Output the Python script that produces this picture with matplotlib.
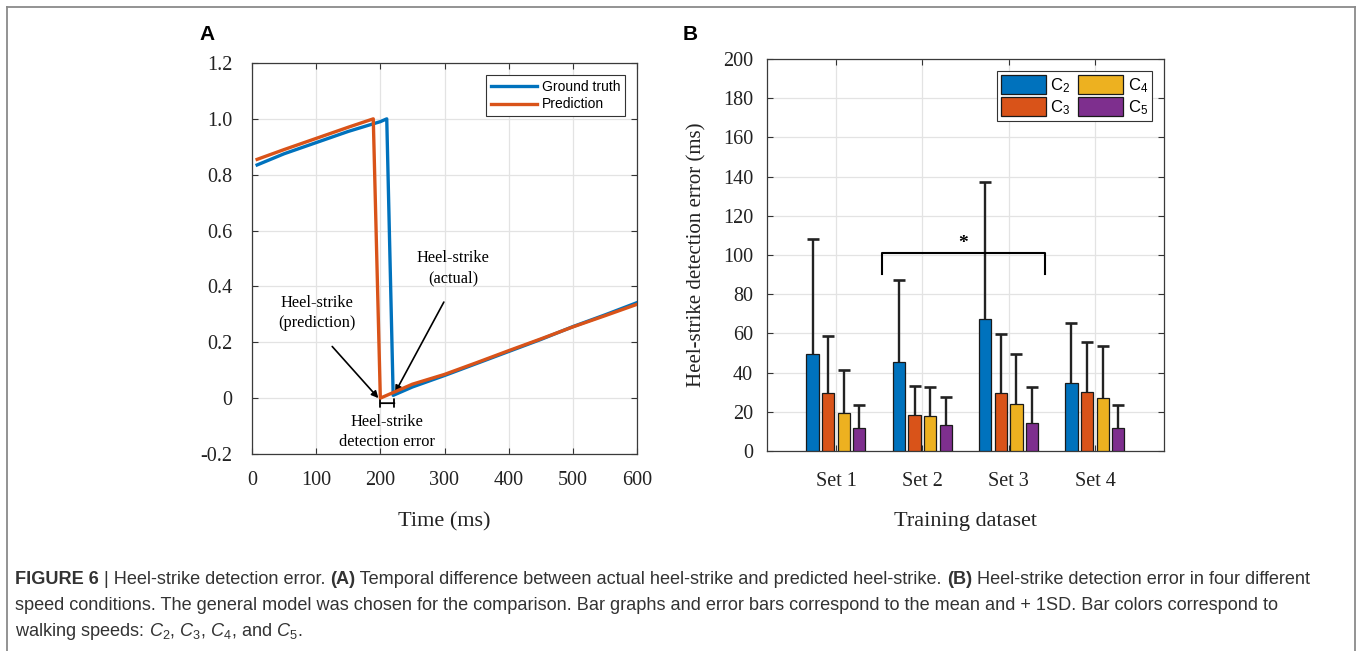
import numpy as np
import matplotlib
matplotlib.use("Agg")
import matplotlib.pyplot as plt
from matplotlib.patches import Patch
from matplotlib.lines import Line2D

# fonts
plt.rcParams['font.family'] = ['Liberation Serif', 'DejaVu Serif']
plt.rcParams['mathtext.fontset'] = 'custom'
plt.rcParams['mathtext.rm'] = 'Liberation Sans'
plt.rcParams['mathtext.it'] = 'Liberation Sans:italic'

# Panel A data
gt_t = [8, 50, 100, 150, 200, 210, 220, 250, 300, 350, 400, 450, 500, 550, 600]
gt_v = [0.835, 0.875, 0.915, 0.955, 0.99, 1.0, 0.01, 0.04, 0.081, 0.124, 0.167, 0.21, 0.256, 0.298, 0.342]
pred_t = [8, 50, 100, 150, 189, 200, 250, 300, 350, 400, 450, 500, 550, 600]
pred_v = [0.855, 0.89, 0.93, 0.97, 1.0, 0.0, 0.05, 0.085, 0.127, 0.17, 0.212, 0.255, 0.295, 0.336]

# Panel B data: mean and +1SD per walking speed, for Set 1..4
sets = ['Set 1', 'Set 2', 'Set 3', 'Set 4']
speeds = ['C_2', 'C_3', 'C_4', 'C_5']
c2_mean = [49.3, 45.4, 67.4, 34.8]
c2_sd = [58.7, 42.0, 69.6, 30.7]
c3_mean = [29.6, 18.6, 29.6, 30.2]
c3_sd = [29.3, 14.5, 30.0, 25.3]
c4_mean = [19.6, 17.9, 24.0, 27.1]
c4_sd = [21.7, 14.5, 25.5, 26.3]
c5_mean = [11.9, 13.4, 14.5, 11.5]
c5_sd = [11.8, 13.9, 17.9, 12.0]

blue = '#0072BD'
orange = '#D95319'
yellow = '#EDB120'
purple = '#7E2F8E'
grid_c = '#e3e3e3'
ink = '#222222'

W, H = 1357, 651
fig = plt.figure(figsize=(W / 100, H / 100), dpi=100)


def px_axes(l, t, r, b):
    return fig.add_axes([l / W, 1 - b / H, (r - l) / W, (b - t) / H])


def matlab_style(ax):
    ax.grid(True, color=grid_c, lw=0.9)
    ax.set_axisbelow(True)
    ax.tick_params(direction='in', top=True, right=True, length=4, width=0.8, colors='#333333', labelcolor=ink)
    for s in ax.spines.values():
        s.set_color('#3a3a3a')
        s.set_linewidth(0.9)


# ---------- Panel A ----------
axA = px_axes(252, 63, 637, 454)
axA.plot(gt_t, gt_v, color=blue, lw=2.4, label='Ground truth', zorder=3)
axA.plot(pred_t, pred_v, color=orange, lw=2.4, label='Prediction', zorder=4)
axA.set_xlim(0, 600)
axA.set_ylim(-0.2, 1.2)
axA.set_xticks(np.arange(0, 601, 100))
axA.set_yticks(np.arange(-0.2, 1.21, 0.2))
axA.set_yticklabels(['-0.2', '0', '0.2', '0.4', '0.6', '0.8', '1.0', '1.2'])
matlab_style(axA)
axA.tick_params(axis='both', labelsize=14.5)
axA.tick_params(axis='y', pad=14)
axA.tick_params(axis='x', pad=12)
axA.set_xlabel('Time (ms)', fontsize=16, labelpad=16, color=ink)

legA = axA.legend(loc='upper right', bbox_to_anchor=(0.969, 0.969), borderaxespad=0, fancybox=False,
                  edgecolor='#333333', framealpha=1, handlelength=3.3, borderpad=0.35,
                  labelspacing=0.25, handletextpad=0.35, prop={'family': 'Liberation Sans', 'size': 10})
legA.get_frame().set_linewidth(0.8)

hs_pred = pred_t[5]
hs_true = gt_t[6]
ann_kw = dict(ha='center', va='center', fontsize=11.8, linespacing=1.35)
arrow_kw = dict(arrowstyle='-|>', color='black', lw=1.2, mutation_scale=10, shrinkA=0, shrinkB=0)
axA.text(101, 0.305, 'Heel-strike\n(prediction)', **ann_kw)
axA.annotate('', xy=(hs_pred - 3, 0.0), xytext=(125, 0.185), arrowprops=arrow_kw)
axA.text(313, 0.465, 'Heel-strike\n(actual)', **ann_kw)
axA.annotate('', xy=(hs_true + 3, 0.02), xytext=(299, 0.344), arrowprops=arrow_kw)
axA.annotate('', xy=(hs_pred, -0.018), xytext=(hs_true + 2, -0.018),
             arrowprops=dict(arrowstyle='|-|', color='black', lw=1.3, mutation_scale=3,
                             shrinkA=0, shrinkB=0))
axA.text((hs_pred + hs_true) / 2, -0.12, 'Heel-strike\ndetection error', **ann_kw)

# ---------- Panel B ----------
axB = px_axes(767, 59, 1164, 451)
x = np.arange(1, len(sets) + 1)
means = [c2_mean, c3_mean, c4_mean, c5_mean]
sds = [c2_sd, c3_sd, c4_sd, c5_sd]
colors = [blue, orange, yellow, purple]
offsets = [-0.272, -0.09, 0.09, 0.27]
bw = 0.142
handles = []
for m, s, c, o, lab in zip(means, sds, colors, offsets, speeds):
    m = np.array(m)
    top = m + np.array(s)
    # +1SD whiskers only (upper side)
    axB.vlines(x + o, m, top, color=ink, lw=1.7, zorder=2)
    axB.plot(x + o, top, ls='none', marker='_', ms=9, mew=1.9, color=ink, zorder=2)
    axB.bar(x + o, m, width=bw, color=c, edgecolor='#1a1a1a', linewidth=0.9, zorder=3)
    handles.append(Patch(facecolor=c, edgecolor='#1a1a1a', linewidth=0.9,
                         label=r'$\mathregular{' + lab + '}$'))

axB.set_xlim(0.2, 4.8)
axB.set_ylim(0, 200)
axB.set_xticks(x)
axB.set_xticklabels(sets)
axB.set_yticks(np.arange(0, 201, 20))
matlab_style(axB)
axB.tick_params(axis='both', labelsize=14.5)
axB.tick_params(axis='y', pad=10)
axB.tick_params(axis='x', pad=15)
axB.set_xlabel('Training dataset', fontsize=16, labelpad=15, color=ink)
axB.set_ylabel('Heel-strike detection error (ms)', fontsize=15, labelpad=12, color=ink)

# significance bracket between Set 2 and Set 3
br_x = [1.53, 3.42]
br_top, br_leg = 100.8, 90.4
axB.plot([br_x[0], br_x[0], br_x[1], br_x[1]], [br_leg, br_top, br_top, br_leg],
         color='black', lw=1.5, zorder=4)
axB.text(np.mean(br_x), br_top + 0.5, '*', ha='center', va='bottom', fontsize=14, fontweight='bold')

legB = axB.legend(handles=handles, ncol=2, loc='upper right', bbox_to_anchor=(0.970, 0.969),
                  borderaxespad=0, fancybox=False, edgecolor='#333333', framealpha=1,
                  handlelength=2.7, handleheight=1.35, borderpad=0.25, labelspacing=0.12,
                  handletextpad=0.25, columnspacing=0.5,
                  prop={'family': 'Liberation Sans', 'size': 12})
legB.get_frame().set_linewidth(0.8)

# panel letters
fig.text(207 / W, 1 - 35 / H, 'A', ha='center', va='center', fontsize=15, fontweight='bold',
         family='Liberation Sans')
fig.text(690 / W, 1 - 35 / H, 'B', ha='center', va='center', fontsize=15, fontweight='bold',
         family='Liberation Sans')

# outer frame (open at the bottom)
fc = '#8a8a8a'
fig.add_artist(Line2D([7 / W, 7 / W], [0, 1 - 7 / H], color=fc, lw=1.3))
fig.add_artist(Line2D([7 / W, 1355 / W], [1 - 7 / H, 1 - 7 / H], color=fc, lw=1.3))
fig.add_artist(Line2D([1355 / W, 1355 / W], [0, 1 - 7 / H], color=fc, lw=1.3))

# caption, drawn run by run so bold pieces line up
cap_lines = [
    [('FIGURE 6', 'bold'), (' | Heel-strike detection error. ', 'normal'), ('(A)', 'bold'),
     (' Temporal difference between actual heel-strike and predicted heel-strike. ', 'normal'),
     ('(B)', 'bold'), (' Heel-strike detection error in four different', 'normal')],
    [('speed conditions. The general model was chosen for the comparison. Bar graphs and error '
      'bars correspond to the mean and + 1SD. Bar colors correspond to', 'normal')],
    [('walking speeds: $C_2$, $C_3$, $C_4$, and $C_5$.', 'normal')],
]
cap_y = [580, 606, 632]
renderer = fig.canvas.get_renderer()
for runs, yy in zip(cap_lines, cap_y):
    xpix = 15
    for txt, wt in runs:
        t = fig.text(xpix / W, 1 - yy / H, txt, ha='left', va='center', fontsize=13.1,
                     fontweight=wt, family='Liberation Sans', color='#333333')
        xpix += t.get_window_extent(renderer=renderer).width

fig.savefig('out.png', dpi=100)
